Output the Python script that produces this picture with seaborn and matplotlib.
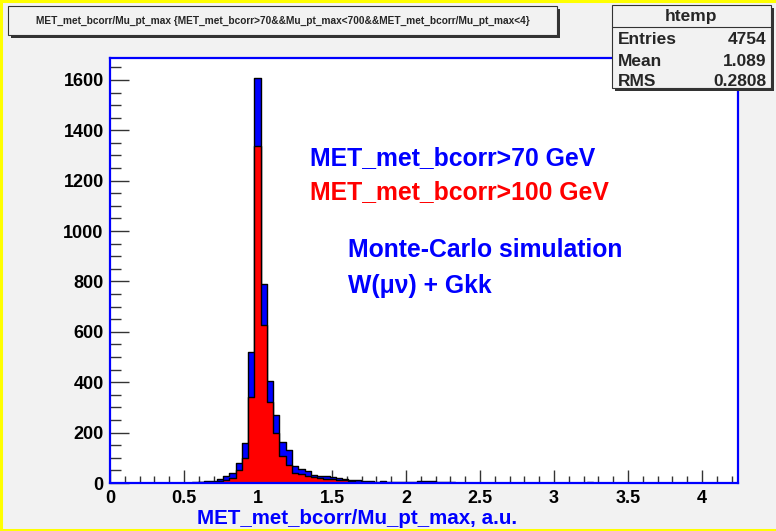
import numpy as np
import pandas as pd
import matplotlib
matplotlib.use("Agg")
import matplotlib.pyplot as plt
from matplotlib.patches import Rectangle
from matplotlib.ticker import MultipleLocator, FuncFormatter
import seaborn as sns

# 100 bins of MET_met_bcorr/Mu_pt_max between 0 and 4.24
x_min, x_max, n_bins = 0.0, 4.24, 100

# bin contents, MET_met_bcorr > 70 GeV (blue) -- bins 0..99
met70_counts = [
    0, 0, 0, 0, 0, 0, 0, 0, 0, 0,
    0, 0, 0, 3, 4, 6, 8, 14, 29, 39,
    79, 159, 521, 1607, 789, 405, 271, 163, 132, 66,
    56, 47, 33, 29, 27, 22, 19, 16, 13, 12,
    7, 6, 5, 6, 4, 5, 4, 3, 5, 7,
    8, 6, 3, 2, 2, 1, 0, 0, 0, 0,
    0, 0, 0, 0, 0, 0, 0, 0, 0, 0,
    0, 0, 0, 0, 0, 0, 4, 0, 0, 0,
    0, 0, 0, 0, 0, 0, 0, 0, 0, 0,
    0, 0, 0, 0, 0, 0, 0, 0, 0, 0,
]

# bin contents, MET_met_bcorr > 100 GeV (red) -- bins 0..99
met100_counts = [
    0, 0, 0, 0, 0, 0, 0, 0, 0, 0,
    0, 0, 0, 1, 2, 3, 4, 8, 12, 19,
    50, 100, 341, 1338, 627, 323, 197, 107, 71, 41,
    34, 28, 22, 19, 16, 16, 13, 10, 6, 3,
    2, 2, 0, 0, 0, 0, 0, 0, 0, 0,
    0, 0, 0, 0, 0, 0, 0, 0, 0, 0,
    0, 0, 0, 0, 0, 0, 0, 0, 0, 0,
    0, 0, 0, 0, 0, 0, 0, 0, 0, 0,
    0, 0, 0, 0, 0, 0, 0, 0, 0, 0,
    0, 0, 0, 0, 0, 0, 0, 0, 0, 0,
]

title_text = "MET_met_bcorr/Mu_pt_max {MET_met_bcorr>70&&Mu_pt_max<700&&MET_met_bcorr/Mu_pt_max<4}"
x_title = "MET_met_bcorr/Mu_pt_max, a.u."
stats_name = "htemp"
stats_rows = [("Entries", "4754"), ("Mean", "1.089"), ("RMS", "0.2808")]
notes = [
    ("MET_met_bcorr>70 GeV", "#0000ff"),
    ("MET_met_bcorr>100 GeV", "#ff0000"),
    ("Monte-Carlo simulation", "#0000ff"),
    ("W(\u03bc\u03bd) + Gkk", "#0000ff"),
]

sns.set_theme(style="white")
plt.rcParams["font.family"] = ["Liberation Sans", "DejaVu Sans"]

W, H = 776, 531
bg = "#f2f2f2"
fig = plt.figure(figsize=(W / 100, H / 100), dpi=100, facecolor=bg)

ax_l, ax_r, ax_t, ax_b = 110, 737.5, 58, 483
ax = fig.add_axes([ax_l / W, 1 - ax_b / H, (ax_r - ax_l) / W, (ax_b - ax_t) / H])
ax.set_facecolor("white")

edges = np.linspace(x_min, x_max, n_bins + 1)
centers = 0.5 * (edges[:-1] + edges[1:])
hist = pd.DataFrame({"ratio": centers, "met70": met70_counts, "met100": met100_counts})

sns.histplot(data=hist, x="ratio", weights="met70", bins=list(edges), element="step",
             fill=True, color="#0000ff", alpha=1, edgecolor="black",
             linewidth=1.0, ax=ax)
sns.histplot(data=hist, x="ratio", weights="met100", bins=list(edges), element="step",
             fill=True, color="#ff0000", alpha=1, edgecolor="black",
             linewidth=1.0, ax=ax)

ax.set_xlim(x_min, x_max)
ax.set_ylim(0, 1687)
ax.set_xlabel("")
ax.set_ylabel("")

for side in ["left", "right", "top", "bottom"]:
    ax.spines[side].set_color("#0000ff")
    ax.spines[side].set_linewidth(1.6)

ax.xaxis.set_major_locator(MultipleLocator(0.5))
ax.xaxis.set_minor_locator(MultipleLocator(0.1))
ax.yaxis.set_major_locator(MultipleLocator(200))
ax.yaxis.set_minor_locator(MultipleLocator(50))
ax.xaxis.set_major_formatter(FuncFormatter(lambda v, p: f"{v:g}"))
ax.tick_params(axis="x", which="major", direction="in", length=9.4, width=1,
               color="#333333", pad=5, labelsize=13)
ax.tick_params(axis="x", which="minor", direction="in", length=5, width=1,
               color="#333333")
ax.tick_params(axis="y", which="major", direction="in", length=13.7, width=1,
               color="#333333", pad=4.5, labelsize=13)
ax.tick_params(axis="y", which="minor", direction="in", length=7.9, width=1,
               color="#333333")
ax.tick_params(bottom=True, left=True, which="both")
for lab in ax.get_xticklabels() + ax.get_yticklabels():
    lab.set_fontweight("bold")
    lab.set_color("black")

# axis title
fig.text(197 / W, 1 - 519 / H, x_title, color="#0000ff", fontsize=14.8,
         fontweight="bold", ha="left", va="center")

# annotation lines inside the frame
note_pos = [(310, 158), (310, 192), (348, 250), (348, 286)]
for (txt, col), (px, py) in zip(notes, note_pos):
    fig.text(px / W, 1 - py / H, txt, color=col, fontsize=17.8,
             fontweight="bold", ha="left", va="center")

def px_rect(x0, y0, x1, y1, **kw):
    return Rectangle((x0 / W, 1 - y1 / H), (x1 - x0) / W, (y1 - y0) / H,
                     transform=fig.transFigure, **kw)

# title box with shadow
fig.patches.append(px_rect(11, 9, 560, 38, facecolor="#333333", edgecolor="none", zorder=5))
fig.patches.append(px_rect(8, 6, 557, 35, facecolor=bg, edgecolor="#333333",
                           linewidth=0.8, zorder=6))
fig.text((8 + 557) / 2 / W, 1 - 20.5 / H, title_text, fontsize=7.3,
         fontweight="bold", ha="center", va="center", zorder=7)

# statistics box with shadow
sx0, sy0, sx1, sy1 = 612, 4.5, 771, 88
fig.patches.append(px_rect(sx0 + 3, sy0 + 3, sx1 + 3, sy1 + 3, facecolor="#333333",
                           edgecolor="none", zorder=5))
fig.patches.append(px_rect(sx0, sy0, sx1, sy1, facecolor=bg, edgecolor="#333333",
                           linewidth=0.8, zorder=6))
fig.add_artist(plt.Line2D([sx0 / W, sx1 / W], [1 - 26.7 / H, 1 - 26.7 / H],
                          transform=fig.transFigure, color="#333333",
                          linewidth=0.8, zorder=7))
fig.text((sx0 + sx1) / 2 / W, 1 - 16 / H, stats_name, fontsize=12.5,
         fontweight="bold", ha="center", va="center", zorder=7)
for (name, val), py in zip(stats_rows, [40, 61.5, 81]):
    fig.text(618 / W, 1 - py / H, name, fontsize=12.5, fontweight="bold",
             ha="left", va="center", zorder=7)
    fig.text(766 / W, 1 - py / H, val, fontsize=12.5, fontweight="bold",
             ha="right", va="center", zorder=7)

# yellow canvas highlight on the left, top and bottom edges
for xs, ys in [([1 / W, 1 / W], [0, 1]), ([0, 1], [1 - 1 / H, 1 - 1 / H]),
               ([0, 1], [1 / H, 1 / H])]:
    fig.add_artist(plt.Line2D(xs, ys, transform=fig.transFigure,
                              color="#ffff00", linewidth=2.2, zorder=10))

fig.savefig("out.png", dpi=100, facecolor=bg)
